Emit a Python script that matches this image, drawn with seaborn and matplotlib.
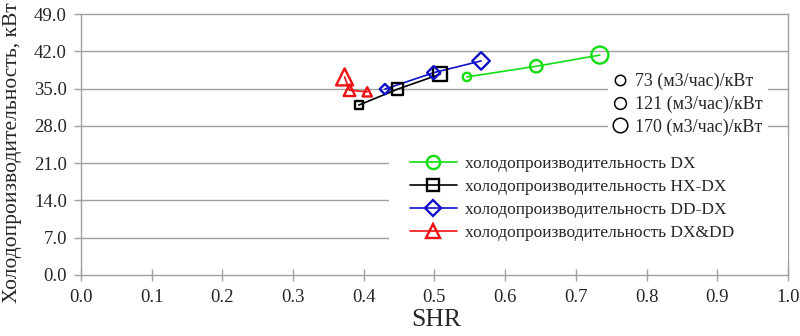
import matplotlib
matplotlib.use("Agg")
import matplotlib.pyplot as plt
from matplotlib.lines import Line2D
import seaborn as sns
import pandas as pd

# ---- data ----
airflow = [73, 121, 170]
shr_dx = [0.546, 0.644, 0.734]
q_dx = [37.2, 39.2, 41.3]
shr_hxdx = [0.393, 0.448, 0.508]
q_hxdx = [31.9, 34.9, 37.7]
shr_dddx = [0.430, 0.499, 0.566]
q_dddx = [34.9, 38.0, 40.2]
shr_dxdd = [0.405, 0.380, 0.373]
q_dxdd = [34.4, 34.7, 37.2]

series_names = ["холодопроизводительность DX", "холодопроизводительность HX-DX",
                "холодопроизводительность DD-DX", "холодопроизводительность DX&DD"]
airflow_labels = ["73 (м3/час)/кВт", "121 (м3/час)/кВт", "170 (м3/час)/кВт"]
x_ticks = [0.0, 0.1, 0.2, 0.3, 0.4, 0.5, 0.6, 0.7, 0.8, 0.9, 1.0]
y_ticks = [0.0, 7.0, 14.0, 21.0, 28.0, 35.0, 42.0, 49.0]

sns.set_theme(style="white")
plt.rcParams["font.family"] = ["Liberation Serif", "DejaVu Serif"]

fig = plt.figure(figsize=(8, 3.36), dpi=100)
ax = fig.add_axes([0.101, 0.182, 0.884, 0.776])

grid_c = "#a0a0a0"
for y in y_ticks[1:-1]:
    ax.axhline(y, color=grid_c, lw=1.0, zorder=0)

styles = [
    (shr_dx, q_dx, "#11dd11", "o", {73: 36, 121: 80, 170: 150}),
    (shr_hxdx, q_hxdx, "#000000", "s", {73: 30, 121: 66, 170: 95}),
    (shr_dddx, q_dddx, "#1010c8", "D", {73: 28, 121: 45, 170: 80}),
    (shr_dxdd, q_dxdd, "#ee1111", "^", {73: 45, 121: 70, 170: 150}),
]

for (xs, ys, col, mk, sz), name in zip(styles, series_names):
    df = pd.DataFrame({"SHR": xs, "Q": ys, "airflow": airflow})
    sns.lineplot(data=df, x="SHR", y="Q", sort=False, estimator=None,
                 color=col, lw=1.2, ax=ax, zorder=2)
    n_before = len(ax.collections)
    sns.scatterplot(data=df, x="SHR", y="Q", size="airflow", sizes=sz,
                    marker=mk, color=col, ax=ax, legend=False, zorder=3)
    coll = ax.collections[n_before]
    coll.set_facecolor("none")
    coll.set_edgecolor(col)
    coll.set_linewidth(1.7)

ax.set_xlim(0, 1.0)
ax.set_ylim(0, 49)
ax.set_xticks(x_ticks)
ax.set_xticklabels([f"{v:.1f}" for v in x_ticks])
ax.set_yticks(y_ticks)
ax.set_yticklabels([f"{v:.1f}" for v in y_ticks])
ax.tick_params(axis="x", direction="inout", length=8, width=1, color=grid_c,
               labelsize=13.5, pad=6, bottom=True)
ax.tick_params(axis="y", direction="out", length=5, width=1, color=grid_c,
               labelsize=13.5, pad=5, left=True)
for s in ax.spines.values():
    s.set_color(grid_c)
    s.set_linewidth(1.0)

ax.set_xlabel("SHR", fontsize=18.5)
ax.xaxis.set_label_coords(0.503, -0.13)
ax.set_ylabel("Холодопроизводительность, кВт", fontsize=15.5, va="center")
ax.yaxis.set_label_coords(-0.097, 0.47)

# series legend
handles = []
for (xs, ys, col, mk, sz), name in zip(styles, series_names):
    ms = {"o": 9.5, "s": 9, "D": 8.5, "^": 10}[mk]
    handles.append(Line2D([], [], color=col, lw=1.2, marker=mk, markersize=ms,
                          markerfacecolor="none", markeredgecolor=col,
                          markeredgewidth=1.7))
leg1 = ax.legend(handles, series_names, loc="upper left",
                 bbox_to_anchor=(0.436, 0.536, 0.564, 0.0), mode="expand",
                 fontsize=12.5, frameon=True,
                 fancybox=False, framealpha=1, edgecolor="none",
                 facecolor="white", handlelength=2.7, handletextpad=0.45,
                 labelspacing=0.4, borderpad=1.2, borderaxespad=0)
ax.add_artist(leg1)

# airflow legend
h2 = [Line2D([], [], lw=0, marker="o", markersize=ms, markerfacecolor="none",
             markeredgecolor="black", markeredgewidth=1.1)
      for ms in (7.5, 8.5, 10.5)]
leg2 = ax.legend(h2, airflow_labels, loc="upper left",
                 bbox_to_anchor=(0.745, 0.795), fontsize=13, frameon=True,
                 fancybox=False, framealpha=1, edgecolor="none",
                 facecolor="white", handlelength=0.8, handletextpad=0.4,
                 labelspacing=0.3, borderpad=0.3, borderaxespad=0)

fig.savefig("out.png", dpi=100)
